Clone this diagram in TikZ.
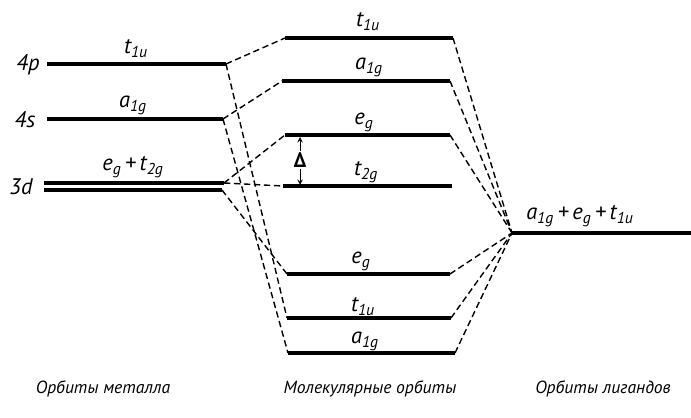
\documentclass[tikz,border=0pt]{standalone}
\usepackage{fontspec}
\setmainfont{PT Sans}
\usepackage{tikz}

\newcommand{\orbital}[2]{#1\textsubscript{#2}}

\begin{document}
\begin{tikzpicture}[
    x=0.025cm, y=-0.025cm,
    % Niveles de energía (líneas gruesas)
    nivel/.style={line width=2.4pt},
    % Correlaciones entre orbitales (discontinuas)
    enlace/.style={line width=1pt, dash pattern=on 4.5pt off 2.6pt},
    % Textos
    etiqueta/.style={font=\fontsize{16}{18}\selectfont\itshape, inner sep=0pt, anchor=south},
    nombreNivel/.style={font=\fontsize{16}{18}\selectfont\itshape, inner sep=0pt},
    titulo/.style={font=\fontsize{12.5}{15}\selectfont\itshape, inner sep=0pt},
    simbolo/.style={font=\fontsize{15}{17}\selectfont\bfseries, inner sep=1pt},
    flechaDelta/.style={->, >=stealth, line width=0.7pt}
]
    \useasboundingbox (0,0) rectangle (691,418);

    % --- ORBITALES DEL METAL ---
    \coordinate (met4p-l)  at (47,64);   \coordinate (met4p-r)  at (226,64);
    \coordinate (met4s-l)  at (47,119);  \coordinate (met4s-r)  at (223,119);
    \coordinate (met3dA-l) at (44,183);  \coordinate (met3dA-r) at (224,183);
    \coordinate (met3dB-l) at (44,190);  \coordinate (met3dB-r) at (222,190);

    \draw[nivel] (met4p-l) -- (met4p-r);
    \draw[nivel] (met4s-l) -- (met4s-r);
    \draw[nivel] (met3dA-l) -- (met3dA-r);
    \draw[nivel] (met3dB-l) -- (met3dB-r);

    \node[nombreNivel] (lbl4p) at (28,65)  {4p};
    \node[nombreNivel] (lbl4s) at (25,120) {4s};
    \node[nombreNivel] (lbl3d) at (21,187) {3d};

    \node[etiqueta] (lblMetT) at (136,58)  {\orbital{t}{1u}};
    \node[etiqueta] (lblMetA) at (133,115) {\orbital{a}{1g}};
    \node[etiqueta] (lblMetD) at (133,178) {\orbital{e}{g}\,+\,\orbital{t}{2g}};

    % --- ORBITALES MOLECULARES ---
    \coordinate (tuAnti-l) at (285,38);   \coordinate (tuAnti-r) at (453,38);
    \coordinate (agAnti-l) at (282,81);   \coordinate (agAnti-r) at (450,81);
    \coordinate (egAnti-l) at (285,135);  \coordinate (egAnti-r) at (450,135);
    \coordinate (t2g-l)    at (283,186);  \coordinate (t2g-r)    at (452,186);
    \coordinate (egBond-l) at (287,274);  \coordinate (egBond-r) at (450,274);
    \coordinate (tuBond-l) at (287,318);  \coordinate (tuBond-r) at (451,318);
    \coordinate (agBond-l) at (288,353);  \coordinate (agBond-r) at (455,353);

    \draw[nivel] (tuAnti-l) -- (tuAnti-r);
    \draw[nivel] (agAnti-l) -- (agAnti-r);
    \draw[nivel] (egAnti-l) -- (egAnti-r);
    \draw[nivel] (t2g-l) -- (t2g-r);
    \draw[nivel] (egBond-l) -- (egBond-r);
    \draw[nivel] (tuBond-l) -- (tuBond-r);
    \draw[nivel] (agBond-l) -- (agBond-r);

    \node[etiqueta] (lblTuAnti) at (368,31)  {\orbital{t}{1u}};
    \node[etiqueta] (lblAgAnti) at (369,77)  {\orbital{a}{1g}};
    \node[etiqueta] (lblEgAnti) at (364,132) {\orbital{e}{g}};
    \node[etiqueta] (lblT2g)    at (366,183) {\orbital{t}{2g}};
    \node[etiqueta] (lblEgBond) at (361,271) {\orbital{e}{g}};
    \node[etiqueta] (lblTuBond) at (363,316) {\orbital{t}{1u}};
    \node[etiqueta] (lblAgBond) at (365,351) {\orbital{a}{1g}};

    % Desdoblamiento del campo
    \node[simbolo] (delta) at (300,160) {Δ};
    \coordinate (deltaSup) at (300,137);
    \coordinate (deltaInf) at (300,185);
    \draw[flechaDelta] (delta) -- (deltaSup);
    \draw[flechaDelta] (delta) -- (deltaInf);

    % --- ORBITALES DE LOS LIGANDOS ---
    \coordinate (lig-l) at (512,233);  \coordinate (lig-r) at (691,233);
    \draw[nivel] (lig-l) -- (lig-r);
    \node[etiqueta] (lblLig) at (580,227) {\orbital{a}{1g}\,+\,\orbital{e}{g}\,+\,\orbital{t}{1u}};

    % --- CORRELACIONES METAL -> OM ---
    \draw[enlace] (met4p-r) -- (tuAnti-l);
    \draw[enlace] (met4p-r) -- (tuBond-l);
    \draw[enlace] (met4s-r) -- (agAnti-l);
    \draw[enlace] (met4s-r) -- (agBond-l);
    \draw[enlace] (met3dA-r) -- (egAnti-l);
    \draw[enlace] (met3dA-r) -- (t2g-l);
    \draw[enlace] (met3dB-r) -- (egBond-l);

    % --- CORRELACIONES OM -> LIGANDOS ---
    \draw[enlace] (tuAnti-r) -- (lig-l);
    \draw[enlace] (agAnti-r) -- (lig-l);
    \draw[enlace] (egAnti-r) -- (lig-l);
    \draw[enlace] (egBond-r) -- (lig-l);
    \draw[enlace] (tuBond-r) -- (lig-l);
    \draw[enlace] (agBond-r) -- (lig-l);

    % --- TÍTULOS ---
    \node[titulo] (tituloMet) at (103,389) {Орбиты металла};
    \node[titulo] (tituloMol) at (370,389) {Молекулярные орбиты};
    \node[titulo] (tituloLig) at (603,389) {Орбиты лигандов};

\end{tikzpicture}
\end{document}
